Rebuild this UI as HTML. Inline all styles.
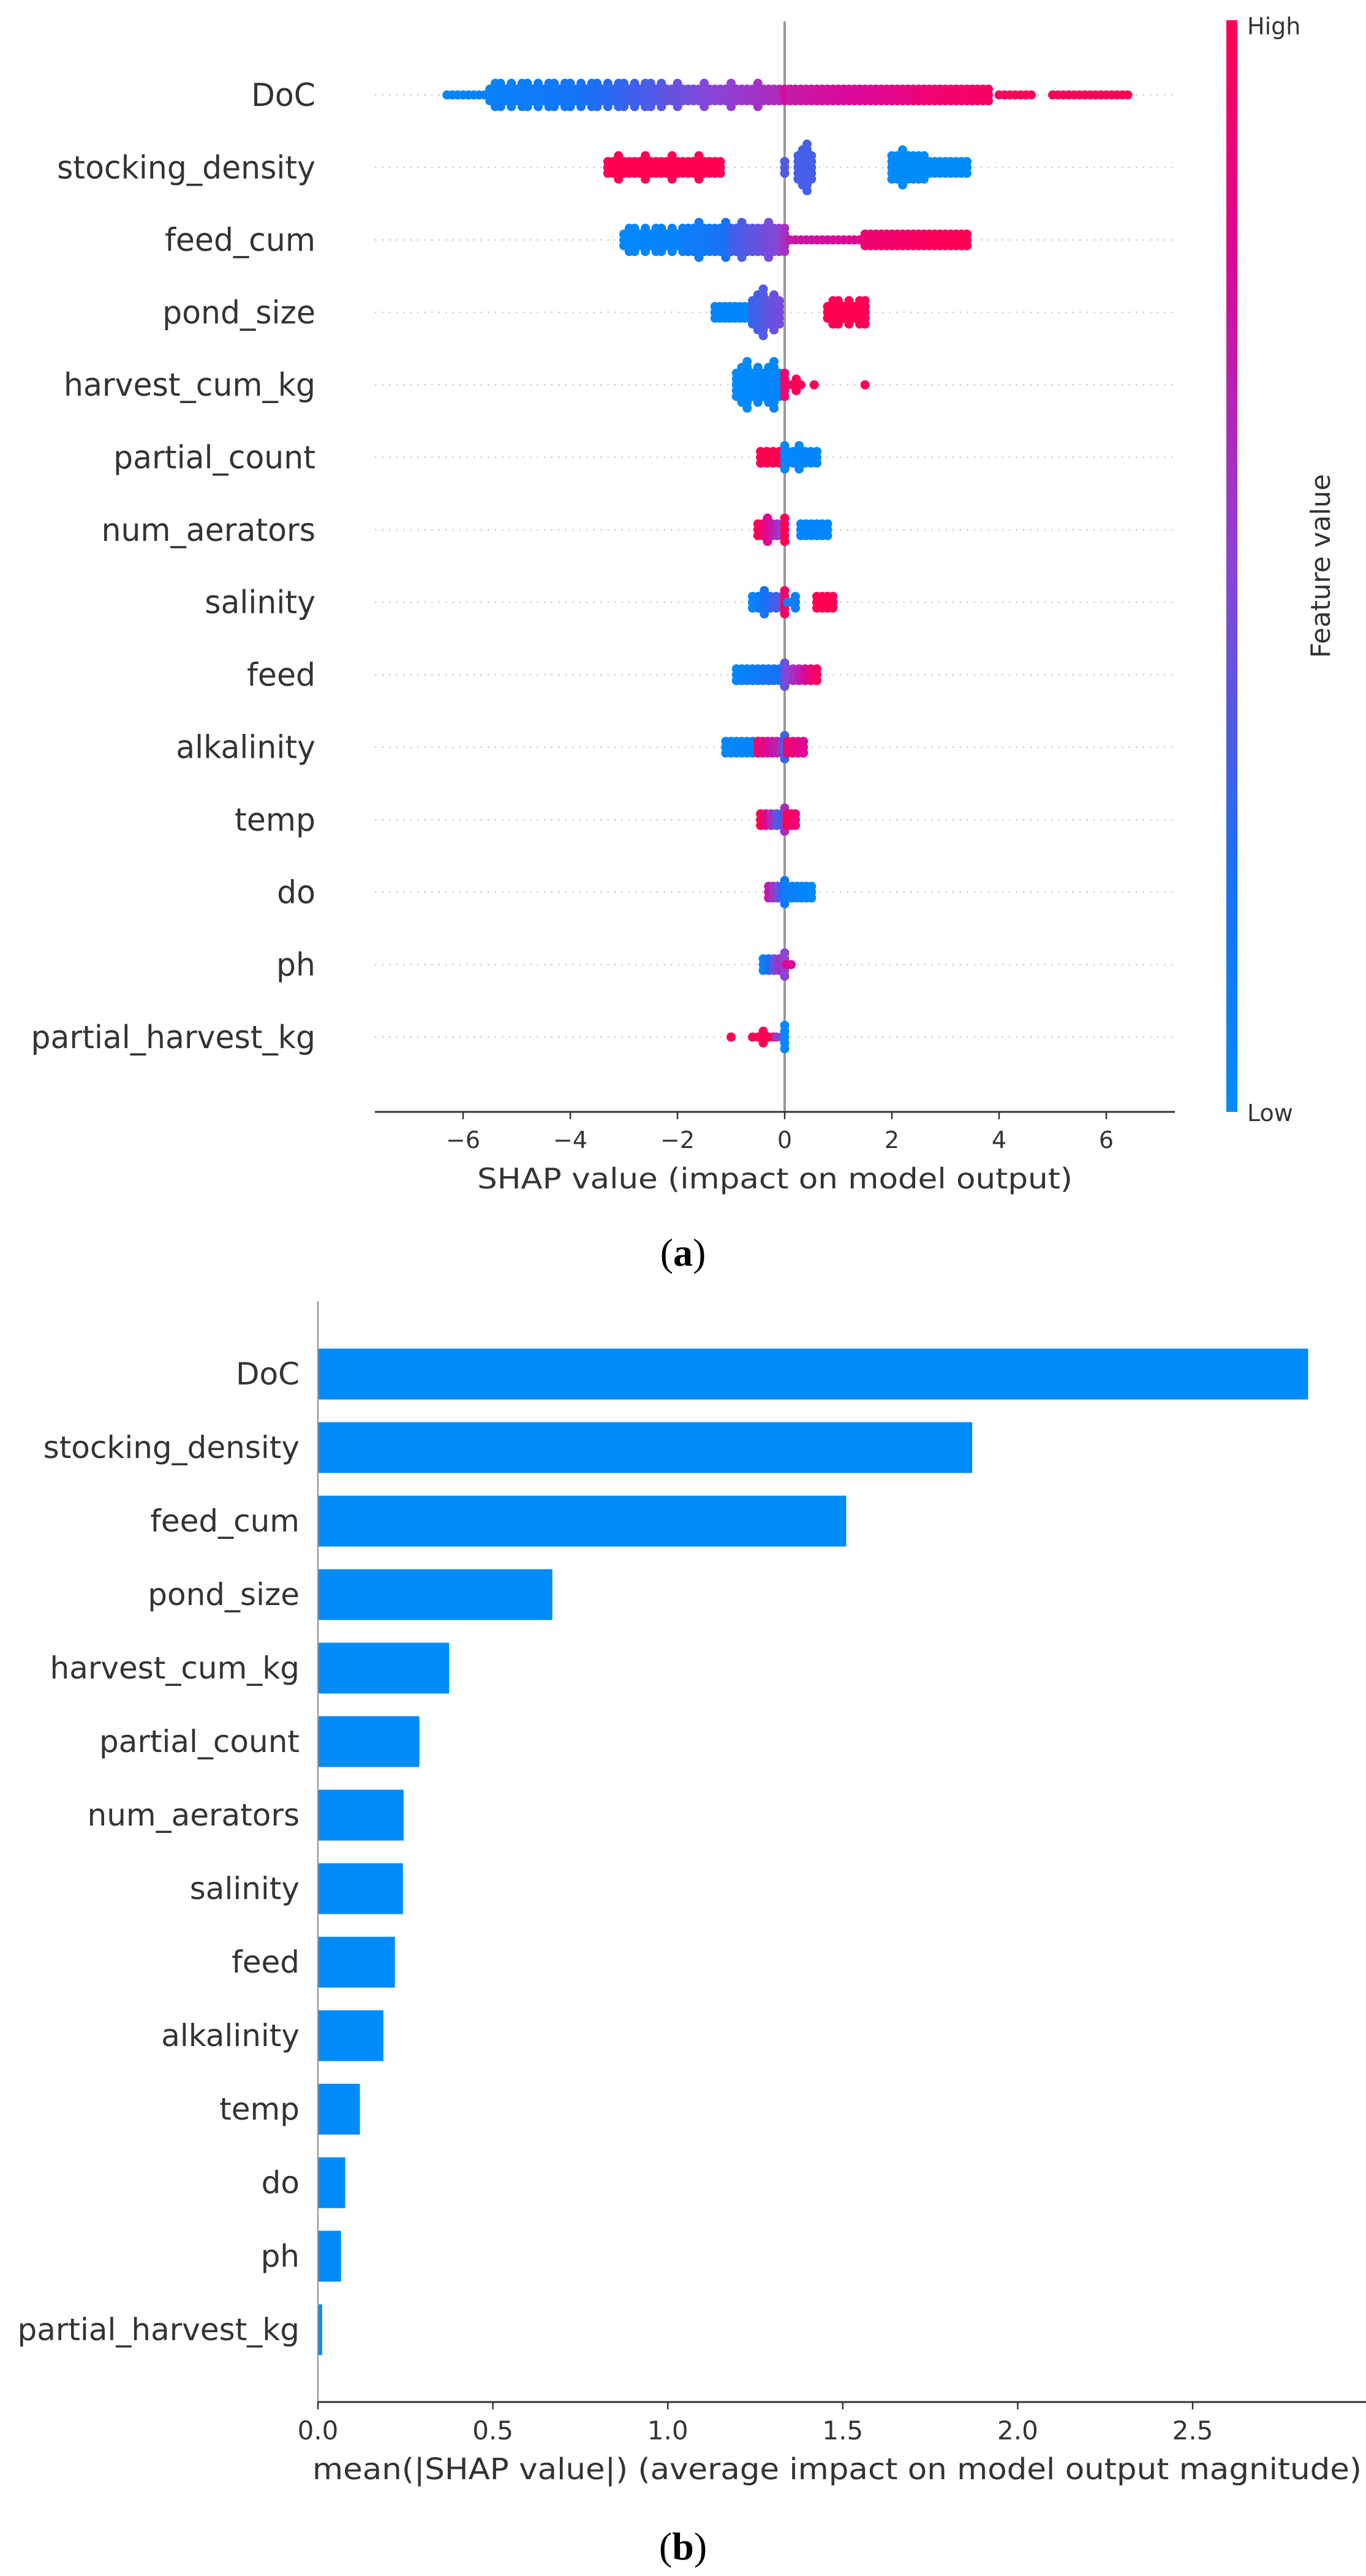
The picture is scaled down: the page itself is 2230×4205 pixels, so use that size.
<!DOCTYPE html>
<html><head><meta charset="utf-8">
<style>
html,body{margin:0;padding:0;background:#fff;}
svg{display:block;}
text{font-family:"DejaVu Sans","Liberation Sans",sans-serif;fill:#333;}
</style></head>
<body>
<svg id="fig" width="2230" height="4205" viewBox="0 0 2230 4205" xmlns="http://www.w3.org/2000/svg">
<defs>
<linearGradient id="cbar" x1="0" y1="1" x2="0" y2="0">
<stop offset="0" stop-color="#008bfb"/>
<stop offset="0.22" stop-color="#1a6ff5"/>
<stop offset="0.5" stop-color="#8a44d6"/>
<stop offset="0.78" stop-color="#dc0896"/>
<stop offset="1" stop-color="#ff0052"/>
</linearGradient>
</defs>
<g id="topchart"></g>
<g id="bottomchart"></g>
</svg>
<script>
const features = ["DoC","stocking_density","feed_cum","pond_size","harvest_cum_kg","partial_count","num_aerators","salinity","feed","alkalinity","temp","do","ph","partial_harvest_kg"];
const meanAbsShap = [2.83,1.87,1.51,0.67,0.375,0.29,0.245,0.243,0.22,0.187,0.12,0.078,0.066,0.012];
const shapTicks = [-6,-4,-2,0,2,4,6];
const barTicks = [0,0.5,1.0,1.5,2.0,2.5];
const barTickLabels = ["0.0","0.5","1.0","1.5","2.0","2.5"];
// clusters per feature: [shapStart, shapEnd, featureValueStart(0..1), featureValueEnd, halfStack]
const clusters = [
 [[-6.3,-5.6,0.05,0.08,0],[-5.5,-4.2,0.08,0.15,2],[-4.2,-2.2,0.15,0.38,2],[-2.2,-0.1,0.4,0.62,1.5],[0,0,0.75,0.75,2],[0.1,2.5,0.7,0.85,1.2],[2.5,3.8,0.88,0.95,1],[4.0,4.6,0.95,1,0],[5.0,6.4,0.97,1,0]],
 [[-3.3,-1.2,1,1,1.5],[0,0,0.35,0.35,1],[0.25,0.5,0.33,0.33,3.5],[2.0,2.6,0,0,2.5],[2.6,3.4,0,0,1]],
 [[-3.0,-1.8,0.02,0.08,2],[-1.8,-1.0,0.1,0.2,2.5],[-1.0,-0.1,0.3,0.5,2.5],[0,0,0.6,0.6,3],[0.1,1.5,0.7,0.82,0],[1.5,3.4,0.9,1,1]],
 [[-1.3,-0.65,0.02,0.05,1],[-0.6,-0.1,0.3,0.45,3.5],[0.8,1.5,1,1,2]],
 [[-0.9,-0.1,0,0.05,3.5],[0,0,0.9,0.9,3],[0.05,0.3,0.95,1,0.5],[0.55,0.55,1,1,0],[1.5,1.5,1,1,0]],
 [[-0.45,-0.1,1,1,1],[0,0,0.02,0.02,4],[0.05,0.6,0.02,0.05,1.5]],
 [[-0.5,-0.05,1,0.5,1.5],[0,0,1,1,4],[0.3,0.8,0.03,0.05,1]],
 [[-0.6,-0.05,0.05,0.4,1.5],[0,0,0.95,0.95,4],[0.05,0.2,0.1,0.1,0.5],[0.6,0.9,1,1,1]],
 [[-0.9,-0.1,0.03,0.2,1],[0,0,0.4,0.4,4],[0.05,0.6,0.5,0.95,1]],
 [[-1.1,-0.5,0.02,0.05,1],[-0.5,-0.05,0.9,0.6,1],[0,0,0.3,0.3,4],[0.05,0.35,0.9,0.8,1]],
 [[-0.45,-0.05,1,0.2,1],[0,0,0.6,0.6,4],[0.05,0.2,1,0.9,1]],
 [[-0.3,-0.05,0.7,0.3,1],[0,0,0.15,0.15,4],[0.05,0.5,0.1,0.02,1]],
 [[-0.4,-0.1,0.05,0.6,1],[0,0,0.5,0.5,4],[0.03,0.12,0.8,0.8,0.5]],
 [[-1.0,-1.0,1,1,0],[-0.6,-0.2,1,1,0.5],[-0.15,-0.05,0.5,0.5,0.5],[0,0,0.02,0.02,4]]
];

const NS="http://www.w3.org/2000/svg";
function mk(tag,attrs,parent){const e=document.createElementNS(NS,tag);for(const k in attrs)e.setAttribute(k,attrs[k]);parent.appendChild(e);return e;}
function lerp(a,b,t){return a+(b-a)*t;}
const stops=[[0,[0,139,251]],[0.22,[26,111,245]],[0.5,[138,68,214]],[0.78,[220,8,150]],[1,[255,0,82]]];
function cmap(v){for(let i=1;i<stops.length;i++){if(v<=stops[i][0]){const a=stops[i-1],b=stops[i];const t=(v-a[0])/(b[0]-a[0]);return `rgb(${a[1].map((c,j)=>Math.round(lerp(c,b[1][j],t))).join(',')})`;}}return 'rgb(255,0,82)';}

// ---------- top beeswarm ----------
const topG=document.getElementById('topchart');
const x0=1281, xu=87.5;
const xS=v=>x0+v*xu;
const rowY0=155, rowDy=118.3;
const yRow=i=>rowY0+i*rowDy;
const axL=612, axR=1918, axY=1815;
features.forEach((f,i)=>{
  const y=yRow(i);
  const l=mk('line',{x1:axL,x2:axR,y1:y,y2:y,stroke:'#ccc','stroke-width':2.5,'stroke-dasharray':'2.5,9'},topG);
  
  
  const g=mk('g',{transform:`translate(515,${y+18}) scale(0.97,1)`},topG);
  const t=mk('text',{x:0,y:0,'text-anchor':'end','font-size':52},g);
  t.textContent=f;
  
  
});
const zl=mk('line',{x1:x0,x2:x0,y1:35,y2:axY,stroke:'#999','stroke-width':4},topG);


const dots=mk('g',{},topG);


clusters.forEach((cl,i)=>{
  const y=yRow(i);
  cl.forEach(c=>{
    const [a,b,ca,cb,h]=c;
    const n=Math.max(1,Math.round((b-a)/0.1)+1);
    for(let k=0;k<n;k++){
      const t=n===1?0:k/(n-1);
      const v=lerp(a,b,t);
      const col=cmap(lerp(ca,cb,t));
      const hs=Math.round(h*(0.6+0.4*((k*7)%5)/4));
      for(let s=-hs;s<=hs;s++){
        const d=mk('circle',{cx:xS(v),cy:y+s*9.5,r:7.5,fill:col},dots);
        
        
      }
    }
  });
});
const xa=mk('line',{x1:axL,x2:axR,y1:axY,y2:axY,stroke:'#333','stroke-width':3},topG);


shapTicks.forEach(v=>{
  mk('line',{x1:xS(v),x2:xS(v),y1:axY,y2:axY+12,stroke:'#333','stroke-width':2.5},topG);
  const t=mk('text',{x:xS(v),y:1874,'text-anchor':'middle','font-size':38},topG);
  t.textContent=(v<0?'\u2212':'')+Math.abs(v);
  
  
});
const tt=mk('text',{x:779,y:1940,'font-size':46,textLength:972,lengthAdjust:'spacingAndGlyphs'},topG);
tt.textContent='SHAP value (impact on model output)';


const cb=mk('rect',{x:2002,y:33,width:18,height:1782,fill:'url(#cbar)'},topG);


const hi=mk('text',{x:2036,y:56,'font-size':38},topG);hi.textContent='High';


const lo=mk('text',{x:2036,y:1830,'font-size':38},topG);lo.textContent='Low';


const fv=mk('text',{x:0,y:0,'font-size':44,'text-anchor':'middle',transform:'translate(2171,924) rotate(-90)'},topG);
fv.textContent='Feature value';


const la=mk('text',{x:1115,y:2066,'font-size':64,'text-anchor':'middle',style:'font-family:"Liberation Serif",serif;fill:#000'},topG);
la.innerHTML='(<tspan font-weight="bold">a</tspan>)';



// ---------- bottom bar chart ----------
const botG=document.getElementById('bottomchart');
const bx0=519, bu=571.2;
const bxS=v=>bx0+v*bu;
const bY0=2243, bDy=120, bh=83;
const byRow=i=>bY0+i*bDy;
const bAxY=3921;
features.forEach((f,i)=>{
  const y=byRow(i);
  const r=mk('rect',{x:bx0,y:y-bh/2,width:bxS(meanAbsShap[i])-bx0,height:bh,fill:'#008bfb'},botG);
  
  
  const t=mk('text',{x:489,y:y+17,'text-anchor':'end','font-size':50},botG);
  t.textContent=f;
  
  
});
const bya=mk('line',{x1:bx0,x2:bx0,y1:2124,y2:bAxY,stroke:'#999','stroke-width':2.5},botG);


const bxa=mk('line',{x1:bx0,x2:2230,y1:bAxY,y2:bAxY,stroke:'#333','stroke-width':3},botG);


barTicks.forEach((v,k)=>{
  mk('line',{x1:bxS(v),x2:bxS(v),y1:bAxY,y2:bAxY+12,stroke:'#333','stroke-width':2.5},botG);
  const t=mk('text',{x:bxS(v),y:3982,'text-anchor':'middle','font-size':42},botG);
  t.textContent=barTickLabels[k];
  
  
});
const bt=mk('text',{x:510,y:4047,'font-size':48,textLength:1713,lengthAdjust:'spacingAndGlyphs'},botG);
bt.textContent='mean(|SHAP value|) (average impact on model output magnitude)';


const lb=mk('text',{x:1115,y:4178,'font-size':64,'text-anchor':'middle',style:'font-family:"Liberation Serif",serif;fill:#000'},botG);
lb.innerHTML='(<tspan font-weight="bold">b</tspan>)';


</script>
</body></html>
